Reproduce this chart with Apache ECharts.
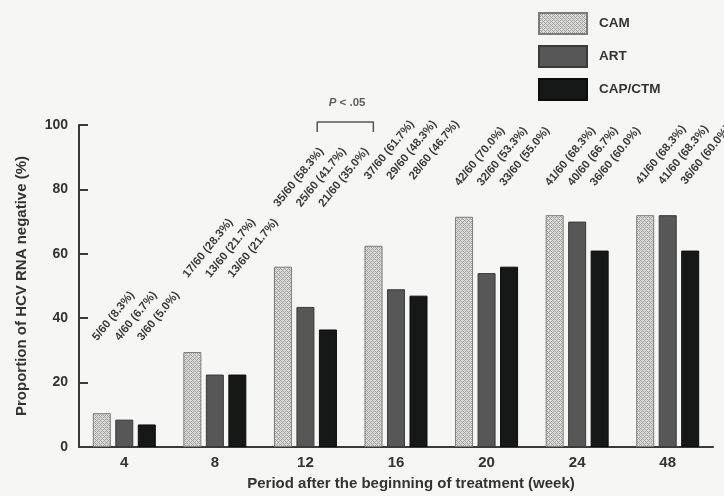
<!DOCTYPE html>
<html>
<head>
<meta charset="utf-8">
<script src="https://cdn.jsdelivr.net/npm/echarts@6/dist/echarts.min.js"></script>
<style>
  html, body { margin: 0; padding: 0; background: #f6f6f4; }
  #chart { width: 724px; height: 496px; }
</style>
</head>
<body>
<div id="chart"></div>
<script>
// weeks after start of treatment
var weeks = ['4', '8', '12', '16', '20', '24', '48'];

// proportion negative (%)
var camValues = [10.5, 29.5, 56, 62.5, 71.5, 72, 72];
var artValues = [8.5, 22.5, 43.5, 49, 54, 70, 72];
var capValues = [7, 22.5, 36.5, 47, 56, 61, 61];

// text above each bar
var camLabels = ['5/60 (8.3%)', '17/60 (28.3%)', '35/60 (58.3%)', '37/60 (61.7%)', '42/60 (70.0%)', '41/60 (68.3%)', '41/60 (68.3%)'];
var artLabels = ['4/60 (6.7%)', '13/60 (21.7%)', '25/60 (41.7%)', '29/60 (48.3%)', '32/60 (53.3%)', '40/60 (66.7%)', '41/60 (68.3%)'];
var capLabels = ['3/60 (5.0%)', '13/60 (21.7%)', '21/60 (35.0%)', '28/60 (46.7%)', '33/60 (55.0%)', '36/60 (60.0%)', '36/60 (60.0%)'];

// height (in %) where each group's slanted labels start
var labelHeights = [33.5, 53, 75, 83.5, 81.5, 81.5, 82];

// P < .05 bracket, on a 0..7 scale (group i is centred at i + 0.5)
var bracketX = [2.63, 3.25];
var bracketY = [97.8, 100.9];
var pTextPos = [2.96, 107];

var yTicks = { min: 0, max: 100, interval: 20 };

var textColor = '#333';
var font = 'Liberation Sans, Arial, sans-serif';

// light crosshatch fill for CAM
function makeHatch() {
    var c = document.createElement('canvas');
    c.width = 4;
    c.height = 4;
    var ctx = c.getContext('2d');
    ctx.fillStyle = '#d8d8d6';
    ctx.fillRect(0, 0, 4, 4);
    ctx.fillStyle = '#a4a4a2';
    ctx.fillRect(0, 0, 1, 1);
    ctx.fillRect(2, 2, 1, 1);
    ctx.fillRect(1, 1, 1, 1);
    ctx.fillRect(3, 3, 1, 1);
    ctx.fillRect(3, 1, 1, 1);
    ctx.fillRect(1, 3, 1, 1);
    return c;
}

var barWidth = 18;
var barGap = 4.5;

function labelSeries(name, labels, slot) {
    return {
        type: 'custom',
        name: name + '-labels',
        xAxisIndex: 0,
        yAxisIndex: 0,
        silent: true,
        data: weeks.map(function (w, i) { return [i, labelHeights[i]]; }),
        renderItem: function (params, api) {
            var pt = api.coord([api.value(0), api.value(1)]);
            var dx = slot * (barWidth + barGap) - 7;
            return {
                type: 'text',
                x: pt[0] + dx,
                y: pt[1],
                rotation: 51 * Math.PI / 180,
                style: {
                    text: labels[params.dataIndex],
                    fill: '#3a3a3a',
                    font: 'bold 11.5px ' + font,
                    align: 'left',
                    verticalAlign: 'middle'
                }
            };
        }
    };
}

var chart = echarts.init(document.getElementById('chart'));

chart.setOption({
    backgroundColor: '#f6f6f4',
    animation: false,
    grid: {
        left: 79,
        right: 11,
        top: 125,
        bottom: 48
    },
    legend: {
        data: ['CAM', 'ART', 'CAP/CTM'],
        orient: 'vertical',
        left: 533,
        top: 7,
        icon: 'rect',
        itemWidth: 48,
        itemHeight: 21,
        itemGap: 10,
        selectedMode: false,
        textStyle: {
            color: textColor,
            fontWeight: 'bold',
            fontSize: 13.5,
            fontFamily: font,
            padding: [0, 0, 0, 7]
        }
    },
    xAxis: [
        {
            type: 'category',
            data: weeks,
            name: 'Period after the beginning of treatment (week)',
            nameLocation: 'middle',
            nameGap: 29,
            nameTextStyle: {
                color: textColor,
                fontWeight: 'bold',
                fontSize: 15,
                fontFamily: font,
                padding: [0, 0, 0, 30]
            },
            axisLine: { lineStyle: { color: '#3a3a3a', width: 2 } },
            axisTick: { show: false },
            axisLabel: {
                color: textColor,
                fontWeight: 'bold',
                fontSize: 15,
                fontFamily: font,
                margin: 8
            }
        },
        {
            type: 'value',
            min: 0,
            max: 7,
            show: false
        }
    ],
    yAxis: {
        type: 'value',
        min: yTicks.min,
        max: yTicks.max,
        interval: yTicks.interval,
        name: 'Proportion of HCV RNA negative (%)',
        nameLocation: 'middle',
        nameGap: 50,
        nameTextStyle: {
            color: textColor,
            fontWeight: 'bold',
            fontSize: 15,
            fontFamily: font
        },
        axisLine: { show: true, lineStyle: { color: '#3a3a3a', width: 2 } },
        axisTick: { show: true, inside: true, length: 9, lineStyle: { color: '#3a3a3a', width: 2 } },
        axisLabel: {
            color: textColor,
            fontWeight: 'bold',
            fontSize: 14,
            fontFamily: font,
            margin: 11
        },
        splitLine: { show: false }
    },
    series: [
        {
            name: 'CAM',
            type: 'bar',
            data: camValues,
            barWidth: barWidth,
            barGap: (barGap / barWidth * 100) + '%',
            itemStyle: {
                color: { image: makeHatch(), repeat: 'repeat' },
                borderColor: '#7c7c7c',
                borderWidth: 1
            }
        },
        {
            name: 'ART',
            type: 'bar',
            data: artValues,
            barWidth: barWidth,
            itemStyle: {
                color: '#575757',
                borderColor: '#3a3a3a',
                borderWidth: 1
            }
        },
        {
            name: 'CAP/CTM',
            type: 'bar',
            data: capValues,
            barWidth: barWidth,
            itemStyle: {
                color: '#161818',
                borderColor: '#0c0c0c',
                borderWidth: 1
            }
        },
        labelSeries('CAM', camLabels, -1),
        labelSeries('ART', artLabels, 0),
        labelSeries('CAP/CTM', capLabels, 1),
        {
            name: 'bracket',
            type: 'line',
            xAxisIndex: 1,
            clip: false,
            silent: true,
            symbol: 'none',
            lineStyle: { color: '#555', width: 1.5 },
            data: [
                [bracketX[0], bracketY[0]],
                [bracketX[0], bracketY[1]],
                [bracketX[1], bracketY[1]],
                [bracketX[1], bracketY[0]]
            ]
        },
        {
            name: 'pvalue',
            type: 'scatter',
            xAxisIndex: 1,
            clip: false,
            silent: true,
            symbolSize: 0,
            data: [pTextPos],
            label: {
                show: true,
                position: 'inside',
                formatter: '{i|P} < .05',
                color: '#333',
                fontWeight: 'bold',
                fontSize: 11.5,
                fontFamily: font,
                rich: {
                    i: { fontStyle: 'italic', fontWeight: 'bold', fontSize: 11.5, color: '#333', fontFamily: font }
                }
            }
        }
    ]
});
</script>
</body>
</html>
